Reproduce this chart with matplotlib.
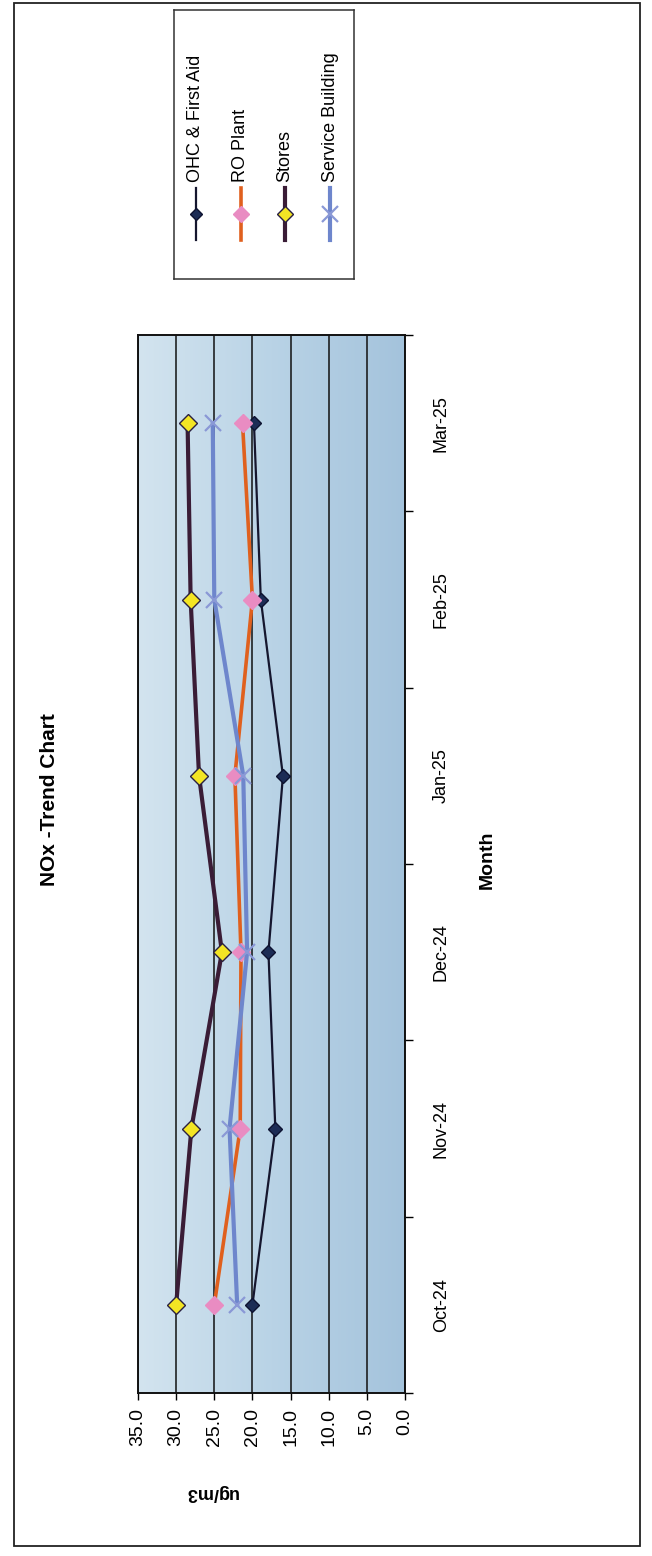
"""
NOx trend chart, laid out sideways as in the scanned report page.
"""

import matplotlib
matplotlib.use("Agg")
import matplotlib.pyplot as plt
import numpy as np
from matplotlib.colors import LinearSegmentedColormap
from matplotlib.patches import Rectangle
from matplotlib.ticker import FormatStrFormatter

# data
months = ['Oct-24', 'Nov-24', 'Dec-24', 'Jan-25', 'Feb-25', 'Mar-25']
ohc_first_aid = [20.0, 17.0, 17.9, 16.0, 18.9, 19.8]
ro_plant = [25.0, 21.6, 21.5, 22.3, 20.0, 21.3]
stores = [30.0, 28.0, 24.0, 27.0, 28.1, 28.5]
service_building = [22.0, 23.0, 20.7, 21.2, 25.0, 25.2]
series_names = ['OHC & First Aid', 'RO Plant', 'Stores', 'Service Building']
value_ticks = [0, 5, 10, 15, 20, 25, 30, 35]

# (line colour, line width, marker, marker face, marker edge, marker size)
STYLES = [
    ('#15162e', 1.6, 'D', '#1c2c55', '#0d1230', 7),
    ('#e0601e', 2.6, 'D', '#e98cc2', '#e98cc2', 9),
    ('#3a1c36', 3.0, 'D', '#f3e524', '#2a2040', 9),
    ('#6e86cc', 3.0, 'x', '#8a98d6', '#8a98d6', 12),
]

W, H = 652, 1556
plt.rcParams['font.family'] = ['Liberation Sans', 'DejaVu Sans']
fig = plt.figure(figsize=(W / 100, H / 100), dpi=100)


def fx(px):
    return px / W


def fy(py):
    return 1 - py / H


# chart area border
fig.patches.append(Rectangle((fx(14), fy(1546)), fx(640) - fx(14), fy(3) - fy(1546),
                             transform=fig.transFigure, fill=False,
                             ec='#222222', lw=1.3))

ax = fig.add_axes([fx(138), fy(1393), fx(405) - fx(138), fy(335) - fy(1393)])

# gradient plot area
grad = LinearSegmentedColormap.from_list('bg', ['#d3e4ef', '#b9d3e6', '#a4c3dc'])
ax.imshow(np.linspace(0, 1, 256).reshape(1, -1), cmap=grad, aspect='auto',
          extent=[35, 0, -0.5, len(months) - 0.5], zorder=0)

idx = np.arange(len(months))
all_series = [ohc_first_aid, ro_plant, stores, service_building]
for vals, name, st in zip(all_series, series_names, STYLES):
    color, lw, mk, mfc, mec, ms = st
    ax.plot(vals, idx, color=color, lw=lw, marker=mk, mfc=mfc, mec=mec,
            ms=ms, mew=1.6 if mk == 'x' else 1.0, label=name, zorder=3)

ax.set_xlim(35, 0)
ax.set_ylim(-0.5, len(months) - 0.5)

# value axis (bottom, rotated labels)
ax.set_xticks(value_ticks)
ax.xaxis.set_major_formatter(FormatStrFormatter('%.1f'))
ax.tick_params(axis='x', direction='out', length=5, width=1, pad=6,
               labelsize=14, labelrotation=90)
ax.xaxis.grid(True, color='#111111', lw=1.1)

# category axis (right side)
ax.yaxis.tick_right()
ax.set_yticks(idx)
ax.set_yticklabels(months, rotation=90, va='center', ha='left')
ax.set_yticks(np.arange(-0.5, len(months), 1.0), minor=True)
ax.tick_params(axis='y', which='major', length=0, pad=20, labelsize=13)
ax.tick_params(axis='y', which='minor', direction='out', length=6, width=1)
ax.tick_params(axis='y', which='both', left=False)

for sp in ax.spines.values():
    sp.set_color('#111111')
    sp.set_linewidth(1.4)

fig.text(fx(50), fy(800), 'NOx -Trend Chart', rotation=90, fontsize=15,
         fontweight='bold', ha='center', va='center')
fig.text(fx(487), fy(860), 'Month', rotation=90, fontsize=14,
         fontweight='bold', ha='center', va='center')
fig.text(fx(211), fy(1493), 'ug/m3', rotation=180, fontsize=13,
         fontweight='bold', ha='center', va='center')

# legend box, drawn sideways
lg = fig.add_axes([fx(174), fy(279), fx(354) - fx(174), fy(10) - fy(279)])
lg.set_xlim(0, 1)
lg.set_ylim(0, 1)
lg.set_xticks([])
lg.set_yticks([])
for sp in lg.spines.values():
    sp.set_color('#333333')
    sp.set_linewidth(1.1)
entry_x = [0.122, 0.372, 0.617, 0.867]
for ex, name, st in zip(entry_x, series_names, STYLES):
    color, lw, mk, mfc, mec, ms = st
    lg.plot([ex, ex], [0.145, 0.338], color=color, lw=lw)
    lg.plot([ex], [0.2415], marker=mk, mfc=mfc, mec=mec, ms=ms - 1,
            mew=1.6 if mk == 'x' else 1.0, color=color)
    lg.text(ex, 0.36, name, rotation=90, fontsize=13, ha='center', va='bottom')

fig.savefig('out.png', dpi=100)
